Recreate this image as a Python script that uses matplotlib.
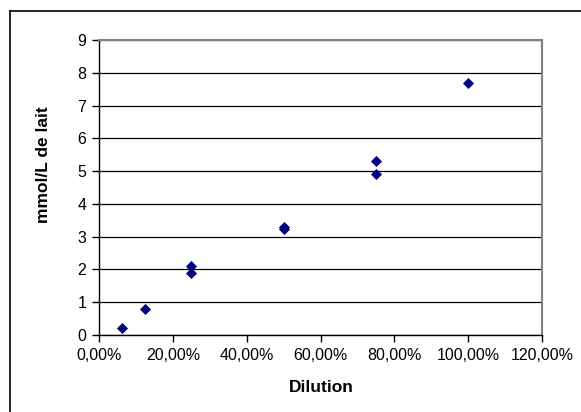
import matplotlib
matplotlib.use("Agg")
import matplotlib.pyplot as plt
from matplotlib.lines import Line2D
from matplotlib.ticker import FuncFormatter

plt.rcParams['font.family'] = ['Liberation Sans', 'DejaVu Sans']

# data
dilution = [0.0625, 0.125, 0.25, 0.25, 0.50, 0.50, 0.75, 0.75, 1.00]
mmol = [0.22, 0.78, 2.10, 1.88, 3.30, 3.22, 5.32, 4.92, 7.69]

W, H = 581, 412
fig = plt.figure(figsize=(W / 100, H / 100), dpi=100)
ax = fig.add_axes([99/W, 1-335/H, (542-99)/W, (335-40)/H])

# outer chart border (only left and top edges fall inside the picture)
bx, by = 10/W, 1 - 11/H
fig.lines.append(Line2D([bx, bx], [0, by], transform=fig.transFigure, color='black', lw=1.2))
fig.lines.append(Line2D([bx, 1], [by, by], transform=fig.transFigure, color='black', lw=1.2))

ax.scatter(dilution, mmol, marker='D', s=32, color='#000080', zorder=3, linewidths=0)

ax.set_xlim(0, 1.2)
ax.set_ylim(0, 9)
ax.set_xticks([i * 0.2 for i in range(7)])
ax.set_yticks(range(10))
ax.xaxis.set_major_formatter(FuncFormatter(lambda v, p: f"{v*100:.2f}%".replace('.', ',')))

ax.yaxis.grid(True, color='black', linewidth=0.9)
ax.set_axisbelow(True)

for s in ['top', 'right']:
    ax.spines[s].set_color('#808080')
    ax.spines[s].set_linewidth(1.5)
for s in ['left', 'bottom']:
    ax.spines[s].set_color('black')
    ax.spines[s].set_linewidth(1.0)

ax.tick_params(direction='out', length=5, width=1, labelsize=11.5, pad=4)

ax.set_xlabel('Dilution', fontsize=12.5, fontweight='bold')
ax.set_ylabel('mmol/L de lait', fontsize=12.5, fontweight='bold')
ax.xaxis.label.set_va('center')
ax.yaxis.label.set_va('center')
ax.xaxis.set_label_coords((321-99)/443, (335-388)/295)
ax.yaxis.set_label_coords((43-99)/443, (335-165)/295)

fig.savefig('out.png', dpi=100)
